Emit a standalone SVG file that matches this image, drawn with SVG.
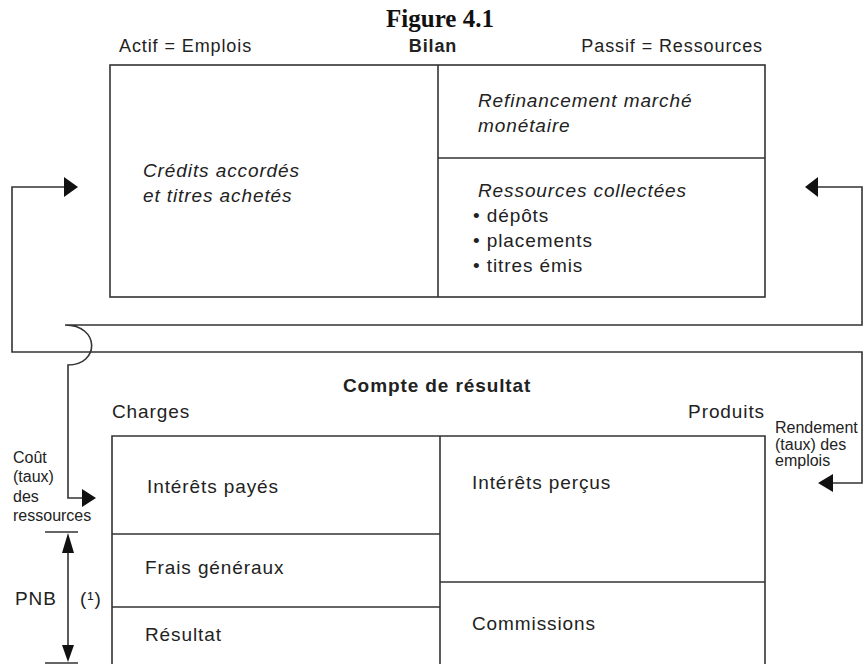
<svg xmlns="http://www.w3.org/2000/svg" width="863" height="664" viewBox="0 0 863 664">
<style>
  .ln{fill:none;stroke:#333;stroke-width:1.6}
  .ah{fill:#111;stroke:none}
  .t{font-family:"Liberation Sans",Arial,sans-serif;font-size:19px;letter-spacing:0.9px;fill:#222}
  .i{font-style:italic}
  .b{font-weight:bold}
  .h{font-size:18px;letter-spacing:0.9px}
  .s{font-size:16px;letter-spacing:0}
</style>
<rect width="863" height="664" fill="#fff"/>
<text x="440" y="27" text-anchor="middle" font-family="'Liberation Serif','Times New Roman',serif" font-weight="bold" font-size="25" fill="#111">Figure 4.1</text>

<g id="header">
  <text class="t h" x="119" y="52">Actif = Emplois</text>
  <text class="t h b" x="433" y="52" text-anchor="middle">Bilan</text>
  <text class="t h" x="763" y="52" text-anchor="end">Passif = Ressources</text>
</g>

<g id="bilan">
  <rect class="ln" x="110" y="65" width="655" height="232"/>
  <line class="ln" x1="438" y1="65" x2="438" y2="297"/>
  <line class="ln" x1="438" y1="158" x2="765" y2="158"/>
  <text class="t i" x="143" y="177">Crédits accordés</text>
  <text class="t i" x="143" y="202">et titres achetés</text>
  <text class="t i" x="478" y="107">Refinancement marché</text>
  <text class="t i" x="478" y="132">monétaire</text>
  <text class="t i" x="478" y="197">Ressources collectées</text>
  <text class="t" x="473" y="222">• dépôts</text>
  <text class="t" x="473" y="247">• placements</text>
  <text class="t" x="473" y="272">• titres émis</text>
</g>

<g id="compte">
  <text class="t b" x="343" y="392">Compte de résultat</text>
  <text class="t" x="112" y="418">Charges</text>
  <text class="t" x="765" y="418" text-anchor="end">Produits</text>
  <path class="ln" d="M112 672 V436 H765 V672"/>
  <line class="ln" x1="440" y1="436" x2="440" y2="672"/>
  <line class="ln" x1="112" y1="534" x2="440" y2="534"/>
  <line class="ln" x1="112" y1="607" x2="440" y2="607"/>
  <line class="ln" x1="440" y1="582" x2="765" y2="582"/>
  <text class="t" x="147" y="493">Intérêts payés</text>
  <text class="t" x="145" y="574">Frais généraux</text>
  <text class="t" x="145" y="641">Résultat</text>
  <text class="t" x="472" y="489">Intérêts perçus</text>
  <text class="t" x="472" y="630">Commissions</text>
</g>

<g id="cout-label">
  <text class="t s" x="13" y="463">Coût</text>
  <text class="t s" x="13" y="482">(taux)</text>
  <text class="t s" x="13" y="502">des</text>
  <text class="t s" x="13" y="521">ressources</text>
</g>

<g id="rendement-label">
  <text class="t s" x="775" y="433">Rendement</text>
  <text class="t s" x="775" y="450">(taux) des</text>
  <text class="t s" x="775" y="466">emplois</text>
</g>

<g id="pnb">
  <line class="ln" x1="45" y1="532" x2="78" y2="532"/>
  <line class="ln" x1="68" y1="545" x2="68" y2="652"/>
  <line class="ln" x1="45" y1="663" x2="78" y2="663"/>
  <polygon class="ah" points="68,533 62,553 74,553"/>
  <polygon class="ah" points="68,662 62,645 74,645"/>
  <text class="t" x="15" y="605" font-size="17" letter-spacing="1.5">PNB</text>
  <text class="t" x="80" y="605" font-size="17" letter-spacing="1.5">(¹)</text>
</g>

<g id="connectors">
  <path class="ln" d="M66 187 H12 V352 H862 V483 H832"/>
  <polygon class="ah" points="78,187 64,177 64,197"/>
  <polygon class="ah" points="818,483 833,474 833,492"/>
  <path class="ln" d="M816 187 H862 V325 H65 C100 325 100 365 68 365 V498 H83"/>
  <polygon class="ah" points="805,187 818,177 818,197"/>
  <polygon class="ah" points="96,498 82,489 82,507"/>
</g>
</svg>
